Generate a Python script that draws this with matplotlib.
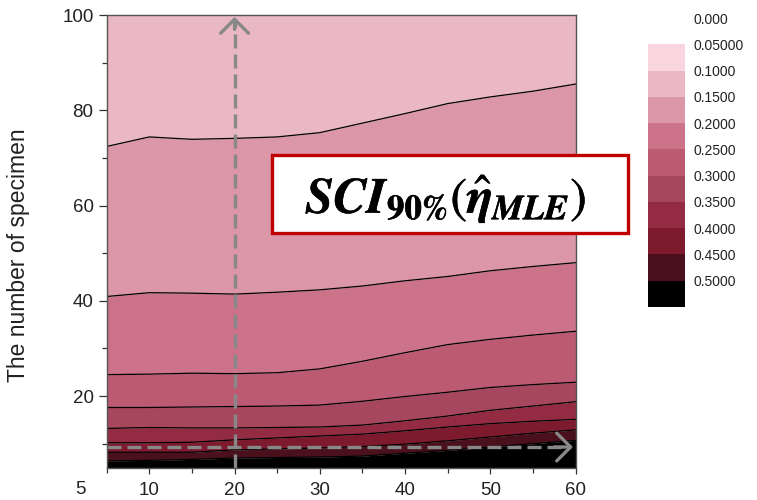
import numpy as np
import matplotlib

matplotlib.use('Agg')
import matplotlib.pyplot as plt
from matplotlib.colors import ListedColormap, BoundaryNorm
from matplotlib.cm import ScalarMappable
from matplotlib.patches import Rectangle
import matplotlib.patheffects as pe

plt.rcParams['font.family'] = ['Liberation Sans', 'DejaVu Sans']
plt.rcParams['mathtext.fontset'] = 'stix'

# n (x axis) where the boundary curves were read
n_vals = [5, 10, 15, 20, 25, 30, 35, 40, 45, 50, 55, 60]

# contour boundaries (number of specimen) for each level
b050 = [6.4, 6.5, 6.7, 7.0, 7.1, 7.2, 7.4, 8.0, 8.6, 9.3, 10.0, 10.7]
b045 = [8.2, 8.2, 8.2, 8.7, 8.9, 9.1, 9.4, 9.9, 10.6, 11.4, 12.2, 12.9]
b040 = [10.2, 10.2, 10.3, 10.8, 11.2, 11.6, 12.0, 12.7, 13.5, 14.2, 14.7, 15.1]
b035 = [13.2, 13.4, 13.3, 13.3, 13.4, 13.5, 13.9, 14.8, 15.8, 17.0, 17.9, 18.8]
b030 = [17.6, 17.6, 17.7, 17.8, 17.9, 18.1, 18.9, 19.9, 20.8, 21.8, 22.4, 22.9]
b025 = [24.5, 24.6, 24.8, 24.7, 24.9, 25.7, 27.3, 29.1, 30.8, 31.9, 32.8, 33.6]
b020 = [40.9, 41.7, 41.6, 41.4, 41.8, 42.3, 43.1, 44.2, 45.1, 46.3, 47.2, 48.0]
b015 = [72.4, 74.4, 73.9, 74.1, 74.4, 75.3, 77.3, 79.3, 81.4, 82.8, 84.0, 85.5]

levels = [0.0, 0.05, 0.1, 0.15, 0.2, 0.25, 0.3, 0.35, 0.4, 0.45, 0.5, 0.55]
level_labels = ['0.000', '0.05000', '0.1000', '0.1500', '0.2000', '0.2500',
                '0.3000', '0.3500', '0.4000', '0.4500', '0.5000']
level_colors = ['#ffffff', '#f8d5df', '#e9b8c4', '#db96a8', '#cd7389', '#bc5a71',
                '#a7475d', '#932c43', '#7d1a2d', '#4a111c', '#000000']

y_min, y_max = 5, 100
arrow_x = 20
arrow_y = 9.3

fig = plt.figure(figsize=(7.57, 5), dpi=100)
ax = fig.add_axes([106.7 / 757, 1 - 467.5 / 500, (575.5 - 106.7) / 757, (467.5 - 15) / 500])

x = np.array(n_vals)
bounds = [np.full(len(x), y_min), b050, b045, b040, b035, b030, b025, b020, b015, np.full(len(x), y_max)]
# bands from bottom (>0.5, black) up to 0.10-0.15
band_colors = level_colors[::-1][:len(bounds) - 1]
for i in range(len(bounds) - 1):
    ax.fill_between(x, bounds[i], bounds[i + 1], color=band_colors[i], lw=0)
for b in bounds[1:-1]:
    ax.plot(x, b, color='black', lw=0.9)

ax.set_xlim(5, 60)
ax.set_ylim(y_min, y_max)

# dashed guide arrows
dash_kw = dict(color='#888888', lw=2.4, ls=(0, (4.2, 1.8)))
ax.plot([arrow_x, arrow_x], [y_min, y_max - 0.8], **dash_kw)
ax.plot([5, 59.3], [arrow_y, arrow_y], **dash_kw)
head = dict(arrowstyle='->,head_length=0.5,head_width=0.5', color='#888888', lw=2.4,
            shrinkA=0, shrinkB=0, mutation_scale=20)
ax.annotate('', xy=(arrow_x, y_max - 0.4), xytext=(arrow_x, y_max - 3), arrowprops=head)
ax.annotate('', xy=(59.7, arrow_y), xytext=(57.5, arrow_y), arrowprops=head)

# ticks
ax.set_xticks(range(10, 61, 10))
ax.set_xticks(range(5, 60, 10), minor=True)
ax.set_yticks(range(20, 101, 20))
ax.set_yticks(range(10, 100, 20), minor=True)
ax.tick_params(which='major', length=6, width=0.9, colors='#333333', labelsize=13.5,
               labelcolor='#222222')
ax.tick_params(which='minor', length=3.5, width=0.9, colors='#333333')
ax.tick_params(axis='x', which='major', length=4.5, pad=6)
for s in ax.spines.values():
    s.set_color('#555555')
    s.set_linewidth(1.0)
ax.set_ylabel('The number of specimen', fontsize=16.5, color='#222222')
ax.yaxis.set_label_coords(-0.163, 0.47)
fig.text(80 / 757, 1 - 490 / 500, '5', fontsize=13.5, color='#222222', ha='center', va='center')

# colorbar
cax = fig.add_axes([648 / 757, 1 - 307 / 500, 37 / 757, 289 / 500])
cmap = ListedColormap(level_colors)
norm = BoundaryNorm(levels, cmap.N)
cb = fig.colorbar(ScalarMappable(norm=norm, cmap=cmap), cax=cax)
cb.outline.set_visible(False)
cb.set_ticks(levels[:-1])
cb.set_ticklabels(level_labels)
cax.minorticks_off()
cax.invert_yaxis()
cax.tick_params(which='both', length=0, pad=6, labelsize=10, labelcolor='#222222')

# label box
fig.patches.append(Rectangle((272 / 757, 1 - 233 / 500), 356 / 757, 78 / 500,
                             transform=fig.transFigure, facecolor='white',
                             edgecolor='#c00000', lw=2.4, zorder=5))
fig.text(446 / 757, 1 - 199 / 500,
         r'$\boldsymbol{SCI}_{\mathbf{90\%}}(\hat{\boldsymbol{\eta}}_{\boldsymbol{MLE}})$',
         fontsize=36, ha='center', va='center', color='black', zorder=6,
         path_effects=[pe.withStroke(linewidth=0.4, foreground='black')])

fig.savefig('out.png', dpi=100)
